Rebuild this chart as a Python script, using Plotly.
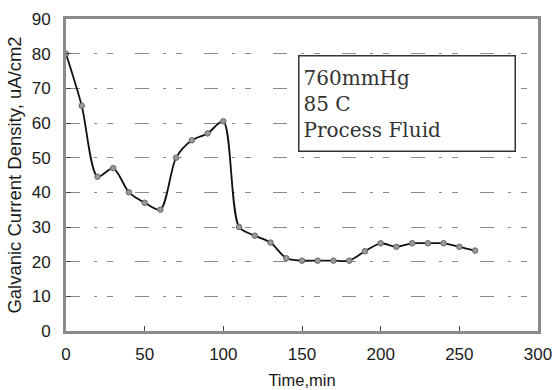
import plotly.graph_objects as go

time_min = [0, 10, 20, 30, 40, 50, 60, 70, 80, 90, 100, 110, 120, 130, 140,
            150, 160, 170, 180, 190, 200, 210, 220, 230, 240, 250, 260]
current_density = [80, 65, 44.5, 47, 40, 37, 35, 50, 55, 57, 60.5, 30, 27.5, 25.5, 21,
                   20.3, 20.3, 20.3, 20.3, 23, 25.3, 24.3, 25.3, 25.3, 25.3, 24.3, 23.2]
x_ticks = [0, 50, 100, 150, 200, 250, 300]
y_ticks = [0, 10, 20, 30, 40, 50, 60, 70, 80, 90]
note_lines = ["760mmHg", "85 C", "Process Fluid"]

fig = go.Figure()
fig.add_trace(go.Scatter(
    x=time_min, y=current_density, mode="lines+markers",
    line=dict(color="#111111", width=1.8, shape="spline", smoothing=0.8),
    marker=dict(size=5.5, color="#9a9a9a", line=dict(color="#666666", width=1)),
    showlegend=False,
))

fig.update_layout(
    width=555, height=390,
    margin=dict(l=66, r=17, t=19, b=59),
    paper_bgcolor="white", plot_bgcolor="white",
    font=dict(family="Liberation Sans, Arial, sans-serif", color="#1a1a1a"),
    annotations=[dict(
        xref="paper", yref="paper", x=(298 - 66) / 472, y=1 - (55 - 19) / 312,
        xanchor="left", yanchor="top", align="left",
        text="<br>".join(note_lines),
        font=dict(family="DejaVu Serif, Liberation Serif, serif", size=20, color="#333333"),
        showarrow=False, bordercolor="#333333", borderwidth=1.5,
        borderpad=4, bgcolor="white", width=207, height=86,
    )],
)
fig.update_xaxes(
    range=[0, 300], tickvals=x_ticks, ticks="inside", ticklen=5, tickcolor="#444",
    showline=True, linecolor="#8a8a8a", linewidth=3, mirror=True,
    showgrid=False, zeroline=False, automargin=False, ticklabelstandoff=6,
    tickfont=dict(size=17), title=dict(text="Time,min", font=dict(size=16.5), standoff=12),
)
fig.update_yaxes(
    range=[0, 90], tickvals=y_ticks, ticks="inside", ticklen=5, tickcolor="#444",
    showline=True, linecolor="#8a8a8a", linewidth=3, mirror=True,
    showgrid=True, gridcolor="#8c8c8c", gridwidth=1, griddash="14px,14px,3px,10px,6px,22px",
    zeroline=False, automargin=False, ticklabelstandoff=9,
    tickfont=dict(size=17),
    title=dict(text="Galvanic Current Density, uA/cm2", font=dict(size=18.5), standoff=6),
)

fig.write_html("out.html", config={"displayModeBar": False},
               post_script="document.body.style.margin='0';")
